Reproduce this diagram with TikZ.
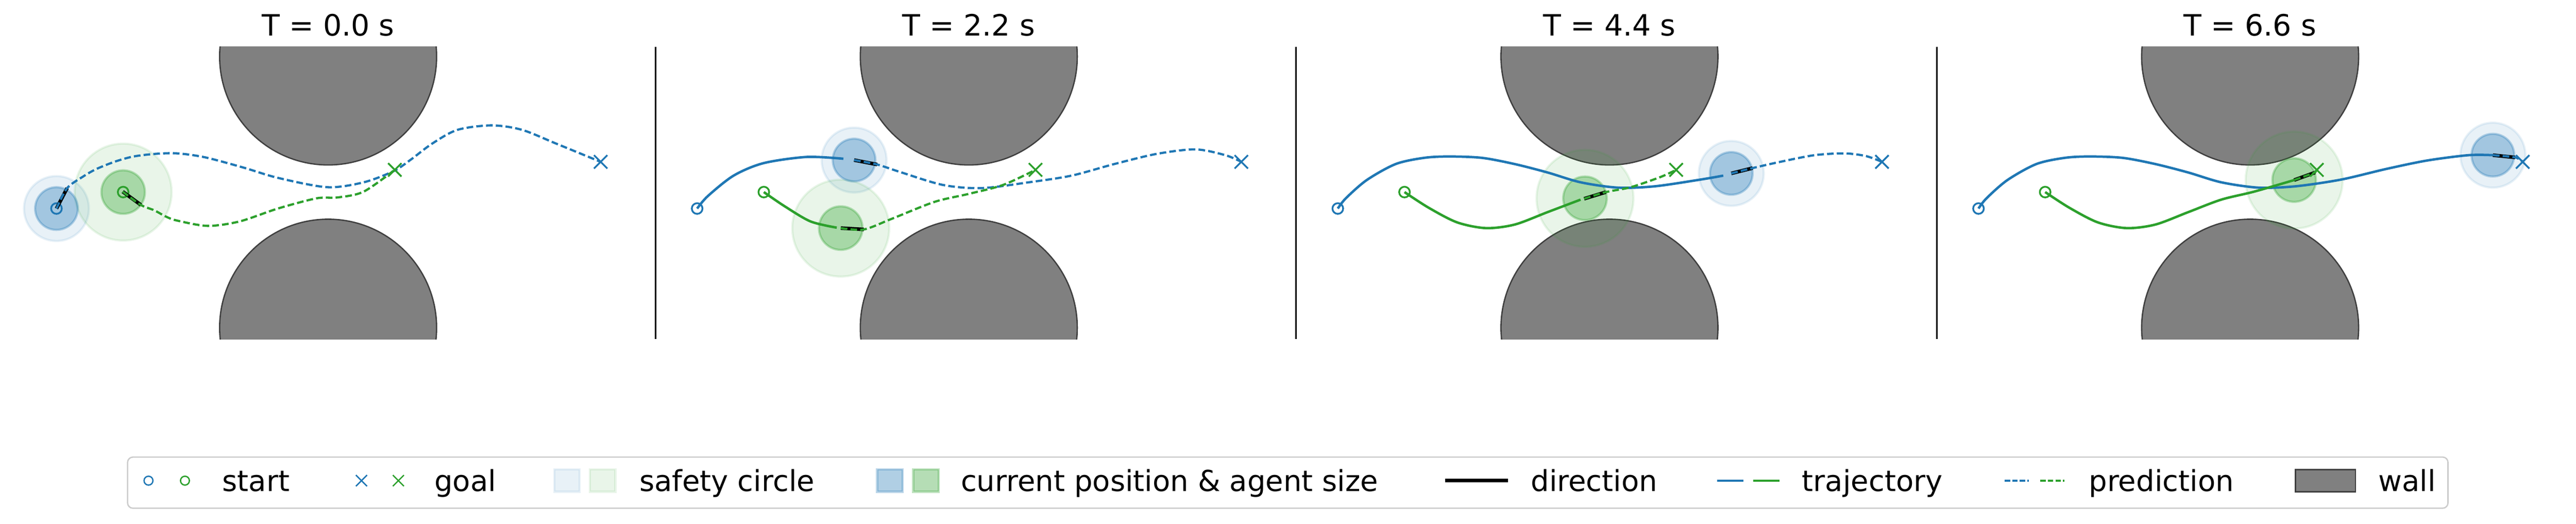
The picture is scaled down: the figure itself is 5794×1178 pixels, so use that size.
\documentclass[tikz,border=0pt]{standalone}
\usepackage{fontspec}
\setmainfont{DejaVu Sans}
\usetikzlibrary{shapes.misc}
\definecolor{cblue}{HTML}{1F77B4}
\definecolor{cgreen}{HTML}{2CA02C}
\definecolor{wallfill}{HTML}{808080}
\definecolor{walledge}{HTML}{3F3F3F}
\definecolor{legedge}{HTML}{CCCCCC}
\begin{document}
\begin{tikzpicture}[x=1pt,y=-1pt,
  wallshape/.style={fill=wallfill,draw=walledge,line width=3pt},
  safety/.style={fill=#1,fill opacity=0.1,draw=#1,draw opacity=0.1,line width=5pt},
  agent/.style={fill=#1,fill opacity=0.35,draw=#1,draw opacity=0.3,line width=5pt},
  trajline/.style={draw=#1,line width=5.5pt},
  predline/.style={draw=#1,line width=5pt,dash pattern=on 15pt off 7pt},
  dirline/.style={draw=black,line width=8pt},
  startmark/.style={circle,draw=#1,line width=4pt,minimum size=24pt,inner sep=0pt},
  goalmark/.style={cross out,draw=#1,line width=4pt,minimum size=26pt,inner sep=0pt},
  titletext/.style={font=\fontsize{66}{79}\selectfont,anchor=base,inner sep=0pt},
  legtext/.style={font=\fontsize{65}{78}\selectfont,anchor=base west,inner sep=0pt},
  sepline/.style={draw=black,line width=3.5pt},
  walls/.code={},
]
\useasboundingbox (0,0) rectangle (5794,1178);

% ---------- separators ----------
\coordinate (sA1) at (1474,105); \coordinate (sA2) at (1474,763);
\coordinate (sB1) at (2915,105); \coordinate (sB2) at (2915,763);
\coordinate (sC1) at (4356,105); \coordinate (sC2) at (4356,763);
\draw[sepline] (sA1) -- (sA2);
\draw[sepline] (sB1) -- (sB2);
\draw[sepline] (sC1) -- (sC2);

% ---------- titles ----------
\node[titletext] (t1) at (738,80) {T = 0.0 s};
\node[titletext] (t2) at (2179,80) {T = 2.2 s};
\node[titletext] (t3) at (3620,80) {T = 4.4 s};
\node[titletext] (t4) at (5061,80) {T = 6.6 s};

% ================= Panel 1 =================
\begin{scope}[shift={(738,432)}]
  \begin{scope}
    \clip (-735,-327) rectangle (736,331);
    \draw[wallshape] (0,-305) circle[radius=244pt];
    \draw[wallshape] (0,305) circle[radius=244pt];
  \end{scope}
  \path[safety=cblue] (-611,37) circle[radius=73pt];
  \path[safety=cgreen] (-461,0) circle[radius=109pt];
  \path[agent=cblue] (-611,37) circle[radius=48pt];
  \path[agent=cgreen] (-461,0) circle[radius=49pt];
  \node[startmark=cblue] (p1bs) at (-611,37) {};
  \node[startmark=cgreen] (p1gs) at (-461,0) {};
  \draw[dirline] (-611,37) -- (-587,-9);
  \draw[dirline] (-462,-1) -- (-421,29);
  \draw[predline=cblue] plot[smooth,tension=0.5] coordinates {(-611,37) (-587,-9) (-551,-35) (-521,-52) (-478,-69) (-438,-80) (-388,-86) (-338,-87) (-276,-78) (-190,-55) (-113,-32) (-2,-11) (80,-22) (147,-47) (186,-73) (234,-109) (291,-140) (368,-150) (436,-140) (513,-109) (613,-68)};
  \draw[predline=cgreen] plot[smooth,tension=0.5] coordinates {(-462,-1) (-421,29) (-391,41) (-365,55) (-340,64) (-271,76) (-199,66) (-113,37) (-26,14) (22,12) (80,-1) (150,-50)};
  \node[goalmark=cblue] (p1bg) at (613,-68) {};
  \node[goalmark=cgreen] (p1gg) at (150,-50) {};
\end{scope}

% ================= Panel 2 =================
\begin{scope}[shift={(2179,432)}]
  \begin{scope}
    \clip (-735,-327) rectangle (736,331);
    \draw[wallshape] (0,-305) circle[radius=244pt];
    \draw[wallshape] (0,305) circle[radius=244pt];
  \end{scope}
  \path[safety=cblue] (-258,-72) circle[radius=73pt];
  \path[safety=cgreen] (-288,81) circle[radius=109pt];
  \path[agent=cblue] (-258,-72) circle[radius=48pt];
  \path[agent=cgreen] (-288,81) circle[radius=49pt];
  \draw[trajline=cblue] plot[smooth,tension=0.5] coordinates {(-611,37) (-587,9) (-529,-37) (-462,-65) (-365,-79) (-282,-75)};
  \draw[trajline=cgreen] plot[smooth,tension=0.5] coordinates {(-461,0) (-414,32) (-356,66) (-297,80)};
  \node[startmark=cblue] (p2bs) at (-611,37) {};
  \node[startmark=cgreen] (p2gs) at (-461,0) {};
  \draw[dirline] (-258,-72) -- (-206,-62);
  \draw[dirline] (-288,81) -- (-236,84);
  \draw[predline=cblue] plot[smooth,tension=0.5] coordinates {(-258,-72) (-206,-62) (-154,-45) (-58,-16) (29,-9) (135,-22) (231,-37) (327,-63) (423,-86) (510,-96) (577,-83) (613,-68)};
  \draw[predline=cgreen] plot[smooth,tension=0.5] coordinates {(-288,81) (-236,84) (-173,60) (-77,22) (0,4) (77,-16) (150,-50)};
  \node[goalmark=cblue] (p2bg) at (613,-68) {};
  \node[goalmark=cgreen] (p2gg) at (150,-50) {};
\end{scope}

% ================= Panel 3 =================
\begin{scope}[shift={(3620,432)}]
  \begin{scope}
    \clip (-735,-327) rectangle (736,331);
    \draw[wallshape] (0,-305) circle[radius=244pt];
    \draw[wallshape] (0,305) circle[radius=244pt];
  \end{scope}
  \path[safety=cblue] (274,-42) circle[radius=73pt];
  \path[safety=cgreen] (-55,14) circle[radius=109pt];
  \path[agent=cblue] (274,-42) circle[radius=48pt];
  \path[agent=cgreen] (-55,14) circle[radius=49pt];
  \draw[trajline=cblue] plot[smooth,tension=0.5] coordinates {(-611,37) (-593,14) (-546,-27) (-481,-63) (-417,-77) (-361,-80) (-287,-77) (-213,-63) (-139,-44) (-65,-22) (19,-10) (102,-13) (204,-28) (256,-37)};
  \draw[trajline=cgreen] plot[smooth,tension=0.5] coordinates {(-461,0) (-407,35) (-343,68) (-278,81) (-213,73) (-139,45) (-65,17)};
  \node[startmark=cblue] (p3bs) at (-611,37) {};
  \node[startmark=cgreen] (p3gs) at (-461,0) {};
  \draw[dirline] (274,-42) -- (322,-54);
  \draw[dirline] (-57,15) -- (-8,0);
  \draw[predline=cblue] plot[smooth,tension=0.5] coordinates {(274,-42) (322,-54) (384,-68) (461,-83) (529,-87) (577,-81) (613,-68)};
  \draw[predline=cgreen] plot[smooth,tension=0.5] coordinates {(-57,15) (-8,0) (48,-11) (115,-34) (150,-50)};
  \node[goalmark=cblue] (p3bg) at (613,-68) {};
  \node[goalmark=cgreen] (p3gg) at (150,-50) {};
\end{scope}

% ================= Panel 4 =================
\begin{scope}[shift={(5061,432)}]
  \begin{scope}
    \clip (-735,-327) rectangle (736,331);
    \draw[wallshape] (0,-305) circle[radius=244pt];
    \draw[wallshape] (0,305) circle[radius=244pt];
  \end{scope}
  \path[safety=cblue] (546,-83) circle[radius=73pt];
  \path[safety=cgreen] (99,-27) circle[radius=109pt];
  \path[agent=cblue] (546,-83) circle[radius=48pt];
  \path[agent=cgreen] (99,-27) circle[radius=49pt];
  \draw[trajline=cblue] plot[smooth,tension=0.5] coordinates {(-611,37) (-593,14) (-546,-27) (-481,-63) (-417,-77) (-361,-80) (-287,-77) (-213,-63) (-139,-44) (-65,-22) (19,-10) (102,-13) (204,-28) (306,-52) (398,-71) (491,-83) (546,-83)};
  \draw[trajline=cgreen] plot[smooth,tension=0.5] coordinates {(-461,0) (-407,35) (-343,68) (-278,81) (-213,73) (-139,45) (-65,17) (9,-1) (99,-27)};
  \node[startmark=cblue] (p4bs) at (-611,37) {};
  \node[startmark=cgreen] (p4gs) at (-461,0) {};
  \draw[dirline] (546,-83) -- (596,-78);
  \draw[dirline] (99,-27) -- (146,-44);
  \draw[predline=cblue] plot[smooth,tension=0.5] coordinates {(546,-83) (596,-78) (613,-68)};
  \draw[predline=cgreen] (99,-27) -- (146,-44) -- (150,-50);
  \node[goalmark=cblue] (p4bg) at (613,-68) {};
  \node[goalmark=cgreen] (p4gg) at (150,-50) {};
\end{scope}

% ================= Legend =================
\draw[draw=legedge,line width=3pt,fill=white,rounded corners=12pt] (287,1028) rectangle (5506,1143);
\node[startmark=cblue,minimum size=20pt,line width=3pt] (lbs) at (334,1081) {};
\node[startmark=cgreen,minimum size=20pt,line width=3pt] (lgs) at (416,1081) {};
\node[legtext] (ls) at (500,1105) {start};
\node[goalmark=cblue,minimum size=22pt,line width=3pt] (lbg) at (813,1081) {};
\node[goalmark=cgreen,minimum size=22pt,line width=3pt] (lgg) at (896,1081) {};
\node[legtext] (lg) at (977,1105) {goal};
\path[safety=cblue] (1247,1056) rectangle (1304,1106);
\path[safety=cgreen] (1327,1056) rectangle (1384,1106);
\node[legtext] (lsc) at (1438,1105) {safety circle};
\path[agent=cblue] (1973,1056) rectangle (2030,1106);
\path[agent=cgreen] (2054,1056) rectangle (2111,1106);
\node[legtext] (lcp) at (2161,1105) {current position \& agent size};
\draw[dirline] (3250,1081) -- (3392,1081);
\node[legtext] (ld) at (3443,1105) {direction};
\draw[trajline=cblue] (3862,1081) -- (3921,1081);
\draw[trajline=cgreen] (3943,1081) -- (4002,1081);
\node[legtext] (lt) at (4053,1105) {trajectory};
\draw[predline=cblue,dash pattern=on 12pt off 5pt] (4509,1081) -- (4563,1081);
\draw[predline=cgreen,dash pattern=on 12pt off 5pt] (4589,1081) -- (4643,1081);
\node[legtext] (lp) at (4698,1105) {prediction};
\draw[wallshape] (5163,1056) rectangle (5298,1106);
\node[legtext] (lw) at (5349,1105) {wall};
\end{tikzpicture}
\end{document}
